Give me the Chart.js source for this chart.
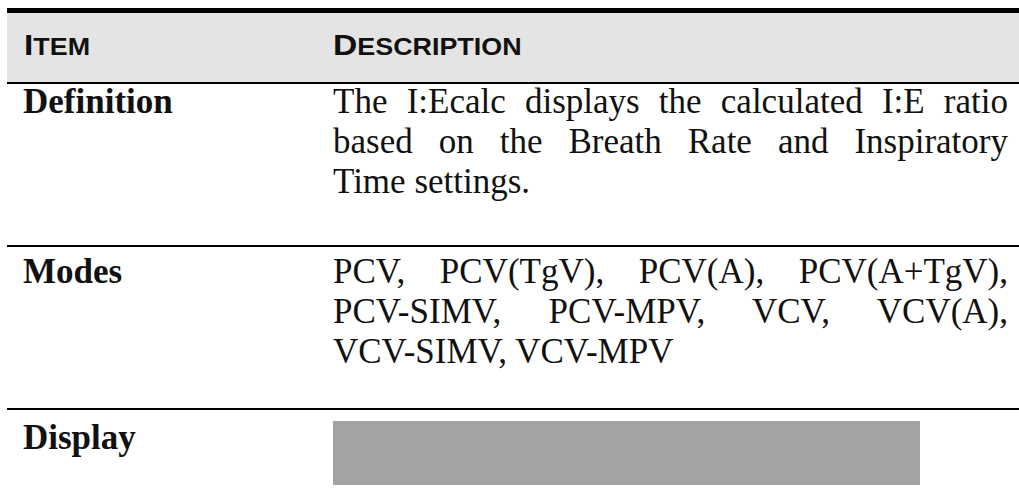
<!DOCTYPE html>
<html>
<head>
<meta charset="utf-8">
<script src="https://cdn.jsdelivr.net/npm/chart.js@4"></script>
<style>
  body { margin: 0; background: #fff; width: 1019px; height: 495px; overflow: hidden; position: relative; }
  .rule { position: absolute; left: 7px; width: 1012px; background: #000; }
  .head { position: absolute; left: 7px; top: 13px; width: 1012px; height: 69px; background: #e4e4e4; }
  .hcell { position: absolute; top: 30px; font-family: "Liberation Sans", Arial, sans-serif; font-weight: bold;
           font-size: 30px; line-height: 30px; color: #111; white-space: nowrap;
           transform: scaleX(1.12); transform-origin: left center; }
  .hcell .sc { font-size: 24px; }
  .item { position: absolute; left: 23px; font-family: "Liberation Serif", "Times New Roman", serif; font-weight: bold;
          font-size: 35px; line-height: 40px; color: #111; }
  .desc { position: absolute; left: 333px; width: 675px; font-family: "Liberation Serif", "Times New Roman", serif;
          font-size: 35px; line-height: 40px; color: #111; }
  .desc div { white-space: nowrap; }
  .desc div.j { text-align: justify; text-align-last: justify; white-space: normal; }
  #bar { position: absolute; left: 333px; top: 421px; }
</style>
</head>
<body>
<div class="rule" style="top:8px;height:5px"></div>
<div class="head"></div>
<div class="rule" style="top:82px;height:2px"></div>
<div class="rule" style="top:245px;height:2px"></div>
<div class="rule" style="top:408px;height:2px"></div>
<canvas id="bar" width="587" height="64"></canvas>
<script>
// table content
let headers = ["Item", "Description"];
let items = ["Definition", "Modes", "Display"];
let definitionLines = [
    "The I:Ecalc displays the calculated I:E ratio",
    "based on the Breath Rate and Inspiratory",
    "Time settings."
];
let modesLines = [
    "PCV, PCV(TgV), PCV(A), PCV(A+TgV),",
    "PCV-SIMV, PCV-MPV, VCV, VCV(A),",
    "VCV-SIMV, VCV-MPV"
];
// display row is a plain grey block
let displayLabels = ["Display"];
let displayValues = [1];

let rowTops = [82, 252, 418];
let headLeft = [24, 333];

headers.forEach((h, i) => {
    let d = document.createElement("div");
    d.className = "hcell";
    d.style.left = headLeft[i] + "px";
    let up = h.toUpperCase();
    d.innerHTML = up[0] + '<span class="sc">' + up.slice(1) + '</span>';
    document.body.appendChild(d);
});

items.forEach((name, i) => {
    let d = document.createElement("div");
    d.className = "item";
    d.style.top = rowTops[i] + "px";
    d.textContent = name;
    document.body.appendChild(d);
});

function addDesc(lines, top) {
    let box = document.createElement("div");
    box.className = "desc";
    box.style.top = top + "px";
    lines.forEach((t, i) => {
        let l = document.createElement("div");
        if (i < lines.length - 1) l.className = "j";
        l.textContent = t;
        box.appendChild(l);
    });
    document.body.appendChild(box);
}
addDesc(definitionLines, rowTops[0]);
addDesc(modesLines, rowTops[1]);

new Chart(document.getElementById("bar"), {
    type: 'bar',
    data: {
        labels: displayLabels,
        datasets: [{
            data: displayValues,
            backgroundColor: "#a3a3a3",
            borderWidth: 0,
            barPercentage: 1,
            categoryPercentage: 1
        }]
    },
    options: {
        indexAxis: 'y',
        responsive: false,
        animation: false,
        layout: { padding: 0 },
        scales: {
            x: { display: false, min: 0, max: 1 },
            y: { display: false }
        },
        plugins: { legend: { display: false }, tooltip: { enabled: false } }
    }
});
</script>
</body>
</html>
